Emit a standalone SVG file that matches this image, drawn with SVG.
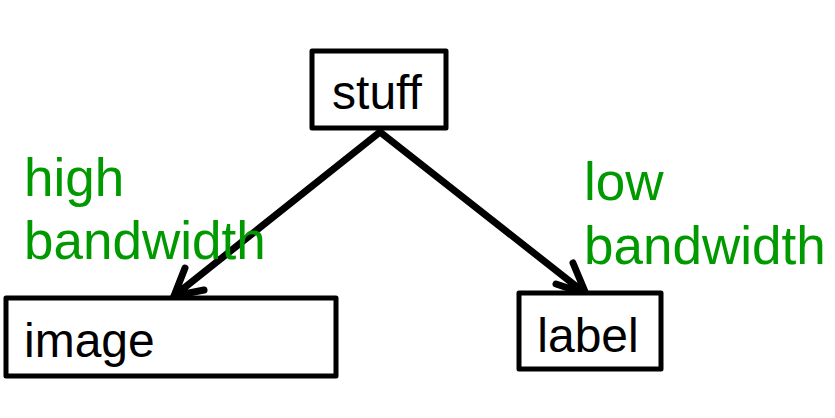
<svg xmlns="http://www.w3.org/2000/svg" width="835" height="418" viewBox="0 0 835 418">
<style>
.box{fill:#fff;stroke:#000;stroke-width:5;stroke-linejoin:round}
.t{font-family:"Liberation Sans",Arial,sans-serif;font-size:48px;fill:#000}
.g{font-family:"Liberation Sans",Arial,sans-serif;font-size:53px;fill:#009900}
.c{fill:none;stroke:#000;stroke-width:7;stroke-linecap:round;stroke-linejoin:round}
</style>
<rect width="835" height="418" fill="#fff"/>
<g id="connectors">
<path class="c" d="M380,132 L174,296 M185,268 L174,296 L204,290"/>
<path class="c" d="M380,132 L586,294 M573,263 L586,294 L556,284"/>
</g>
<g id="stuff">
<rect class="box" x="312" y="51" width="134" height="77"/>
<text class="t" x="377" y="109" text-anchor="middle">stuff</text>
</g>
<g id="image">
<rect class="box" x="6" y="298" width="330" height="78"/>
<text class="t" x="24" y="357">image</text>
</g>
<g id="label">
<rect class="box" x="519" y="293" width="142" height="76"/>
<text class="t" x="588" y="352" text-anchor="middle">label</text>
</g>
<g id="high">
<text class="g" x="24" y="196">high</text>
<text class="g" x="24" y="259">bandwidth</text>
</g>
<g id="low">
<text class="g" x="584" y="200">low</text>
<text class="g" x="584" y="264">bandwidth</text>
</g>
</svg>
